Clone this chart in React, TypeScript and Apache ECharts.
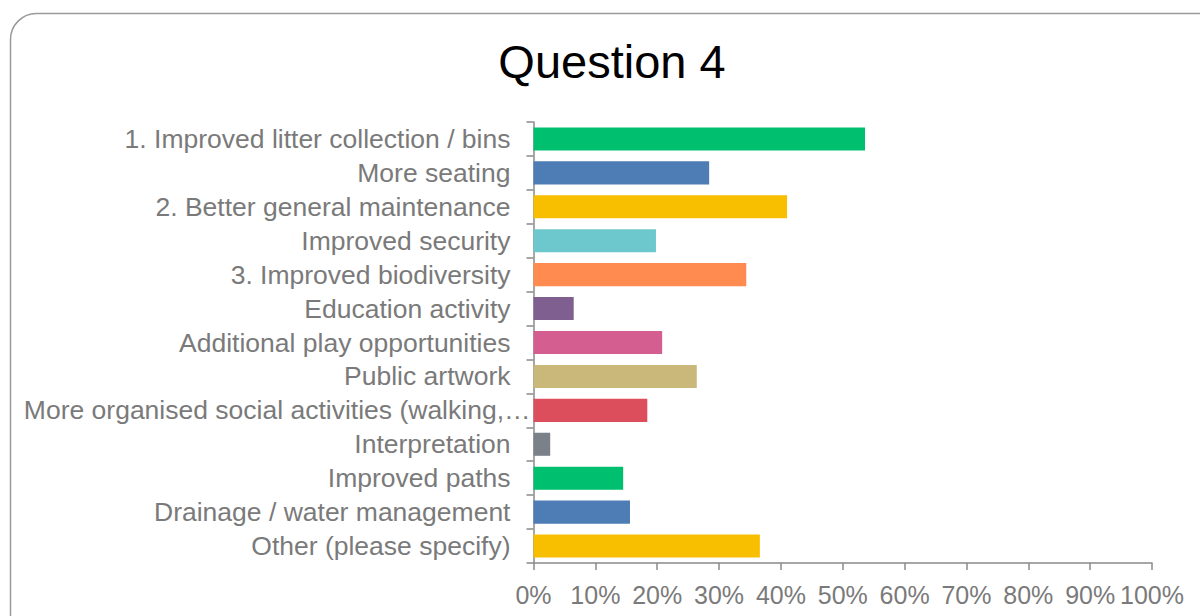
import React, { useEffect, useRef } from "react";
import * as echarts from "echarts";

const categories = [
  "1. Improved litter collection / bins",
  "More seating",
  "2. Better general maintenance",
  "Improved security",
  "3. Improved biodiversity",
  "Education activity",
  "Additional play opportunities",
  "Public artwork",
  "More organised social activities (walking,…",
  "Interpretation",
  "Improved paths",
  "Drainage / water management",
  "Other (please specify)",
];
const values = [53.6, 28.4, 41.0, 19.8, 34.4, 6.5, 20.8, 26.4, 18.4, 2.7, 14.5, 15.6, 36.6];
const colors = [
  "#00BF6F", "#4E7CB5", "#F8BE00", "#6CC8CC", "#FF8B50", "#7F5F90", "#D45E8F",
  "#C9B87A", "#DC4E5C", "#7A8189", "#00BF6F", "#4E7CB5", "#F8BE00",
];
const xTicks = { min: 0, max: 100, interval: 10 };

export default function App() {
  const ref = useRef<HTMLDivElement>(null);
  useEffect(() => {
    document.body.style.margin = "0";
    const chart = echarts.init(ref.current!, null, { renderer: "svg" });
    const font = "'Liberation Sans', Arial, sans-serif";
    chart.setOption({
      animation: false,
      title: {
        text: "Question 4",
        left: 607,
        textAlign: "center",
        top: 33,
        textStyle: { fontFamily: font, fontSize: 47, fontWeight: "normal", color: "#000" },
      },
      graphic: [
        {
          type: "rect",
          shape: { x: 10.5, y: 13.5, width: 1220, height: 640, r: 26 },
          style: { fill: "none", stroke: "#9a9a9a", lineWidth: 1.5 },
          silent: true,
        },
      ],
      grid: { left: 533.5, right: 48, top: 122, bottom: 53, containLabel: false },
      xAxis: {
        type: "value",
        min: xTicks.min,
        max: xTicks.max,
        interval: xTicks.interval,
        splitLine: { show: false },
        axisLine: { show: true, lineStyle: { color: "#8a8a8a", width: 1.5 } },
        axisTick: { show: true, length: 7, lineStyle: { color: "#8a8a8a", width: 1.5 } },
        axisLabel: {
          formatter: "{value}%",
          fontFamily: font,
          fontSize: 25,
          color: "#7a7a7a",
          margin: 19,
        },
      },
      yAxis: {
        type: "category",
        inverse: true,
        data: categories,
        axisLine: { show: true, lineStyle: { color: "#8a8a8a", width: 1.5 } },
        axisTick: { show: true, length: 7, interval: 0, lineStyle: { color: "#8a8a8a", width: 1.5 } },
        axisLabel: {
          interval: 0,
          fontFamily: font,
          fontSize: 26.5,
          color: "#7a7a7a",
          margin: 23,
          formatter: (v: string) => (v.endsWith("…") ? `{c|${v}}` : v),
          rich: {
            c: { fontFamily: font, fontSize: 26.5, color: "#7a7a7a", padding: [0, -20, 0, 0] },
          },
        },
      },
      series: [
        {
          type: "bar",
          barWidth: "68%",
          data: values.map((v, i) => ({ value: v, itemStyle: { color: colors[i] } })),
        },
      ],
    });
    return () => chart.dispose();
  }, []);
  return <div ref={ref} style={{ width: 1200, height: 616 }} />;
}
